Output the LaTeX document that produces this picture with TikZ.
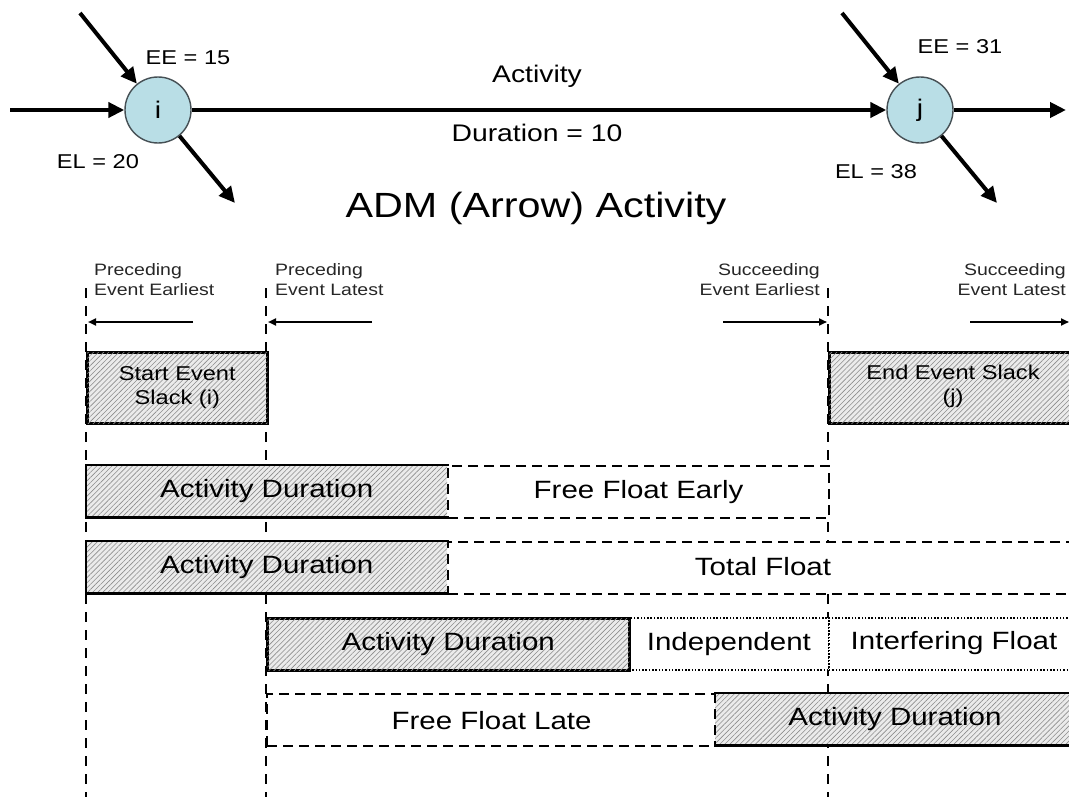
\documentclass[tikz,border=0pt]{standalone}
\usepackage{fontspec}
\setmainfont{Liberation Sans}[FakeStretch=1.18]
\usetikzlibrary{arrows.meta,patterns.meta}
\definecolor{evfill}{RGB}{185,222,230}
\definecolor{evline}{RGB}{70,80,85}
\tikzset{
  evnode/.style={circle,fill=evfill,draw=evline,line width=1.4pt,minimum size=66pt,inner sep=0pt,font=\fontsize{24}{28}\selectfont},
  bigarrow/.style={line width=4pt,-{Triangle[length=16pt,width=15pt]}},
  toplabel/.style={font=\fontsize{24}{28}\selectfont,inner sep=0pt},
  eelabel/.style={font=\fontsize{20}{24}\selectfont,inner sep=0pt},
  smalllabel/.style={font=\fontsize{16.5}{20}\selectfont,inner sep=0pt,text=black!85},
  thinarrow/.style={line width=2pt,-{Triangle[length=8pt,width=7pt]}},
  vdash/.style={line width=2.2pt,dash pattern=on 10pt off 8pt},
  hatch/.style={fill=black!8,postaction={pattern={Lines[angle=45,distance=3.6pt,line width=0.6pt]},pattern color=black!45}},
  boxtext/.style={font=\fontsize{25}{29}\selectfont},
  slacktext/.style={font=\fontsize{20}{24}\selectfont,align=center},
  solidedge/.style={line width=2.6pt,line cap=rect},
  dashbox/.style={draw,fill=white,line width=2.2pt,dash pattern=on 10pt off 6pt},
  dotbox/.style={draw,fill=white,line width=1.8pt,dash pattern=on 1.5pt off 1.8pt},
  rowbox/.style={anchor=north west,inner sep=0pt,minimum height=52pt},
}
\begin{document}
\begin{tikzpicture}[x=1pt,y=-1pt]
\useasboundingbox (0,0) rectangle (1069,797);
\fill[white] (0,0) rectangle (1069,797);

% ---------- top: ADM activity ----------
\node[evnode] (i) at (158,110) {i};
\node[evnode] (j) at (920,110) {j};
\coordinate (iin) at (10,110);
\coordinate (iinD) at (80,13);
\coordinate (ioutD) at (235,203);
\coordinate (jinD) at (842,13);
\coordinate (jout) at (1066,110);
\coordinate (joutD) at (997,203);
\draw[bigarrow] (iin) -- (i);
\draw[bigarrow] (iinD) -- (i);
\draw[bigarrow] (i) -- (ioutD);
\draw[bigarrow] (i) -- (j);
\draw[bigarrow] (jinD) -- (j);
\draw[bigarrow] (j) -- (jout);
\draw[bigarrow] (j) -- (joutD);

\node[eelabel] (ee15) at (188,58) {EE = 15};
\node[eelabel] (el20) at (98,162) {EL = 20};
\node[eelabel] (ee31) at (960,47) {EE = 31};
\node[eelabel] (el38) at (876,172) {EL = 38};
\node[toplabel] (act) at (537,76) {Activity};
\node[toplabel] (dur) at (537,133) {Duration = 10};
\node[font=\fontsize{35}{40}\selectfont,inner sep=0pt] (adm) at (536,208) {ADM (Arrow) Activity};

% ---------- bottom: time lines ----------
\coordinate (v1t) at (86,288);  \coordinate (v1b) at (86,797);
\coordinate (v2t) at (266,288); \coordinate (v2b) at (266,797);
\coordinate (v3t) at (828,288); \coordinate (v3b) at (828,797);
\draw[vdash] (v1t) -- (v1b);
\draw[vdash] (v2t) -- (v2b);
\draw[vdash] (v3t) -- (v3b);

\node[smalllabel,anchor=west,align=left] (pe) at (94,280) {Preceding\\Event Earliest};
\node[smalllabel,anchor=west,align=left] (pl) at (275,280) {Preceding\\Event Latest};
\node[smalllabel,anchor=east,align=right] (se) at (820,280) {Succeeding\\Event Earliest};
\node[smalllabel,anchor=east,align=right] (sl) at (1066,280) {Succeeding\\Event Latest};

\coordinate (peA) at (193,322); \coordinate (peB) at (88,322);
\coordinate (plA) at (372,322); \coordinate (plB) at (268,322);
\coordinate (seA) at (723,322); \coordinate (seB) at (827,322);
\coordinate (slA) at (970,322); \coordinate (slB) at (1069,322);
\draw[thinarrow] (peA) -- (peB);
\draw[thinarrow] (plA) -- (plB);
\draw[thinarrow] (seA) -- (seB);
\draw[thinarrow] (slA) -- (slB);

% slack boxes
\node[hatch,draw,solidedge,anchor=north west,inner sep=0pt,minimum width=180pt,minimum height=71pt] (ss) at (86,351) {};
\node[slacktext] at (ss.center) {Start Event\\Slack (i)};
\node[hatch,draw,solidedge,anchor=north west,inner sep=0pt,minimum width=250pt,minimum height=71pt] (es) at (828,351) {};
\node[slacktext] at (953,386) {End Event Slack\\(j)};

% row 1
\node[dashbox,rowbox,minimum width=381pt] (ffe) at (447,465) {};
\node[boxtext] at (ffe.center) {Free Float Early};
\node[hatch,rowbox,minimum width=361pt] (ad1) at (86,465) {};
\draw[solidedge] (ad1.north east) -- (ad1.north west) -- (ad1.south west) -- (ad1.south east);
\node[boxtext] at (ad1.center) {Activity Duration};

% row 2
\node[dashbox,rowbox,minimum width=640pt] (tf) at (447,541) {};
\node[boxtext] at (763,567) {Total Float};
\node[hatch,rowbox,minimum width=361pt] (ad2) at (86,541) {};
\draw[solidedge] (ad2.north east) -- (ad2.north west) -- (ad2.south west) -- (ad2.south east);
\node[boxtext] at (ad2.center) {Activity Duration};

% row 3
\node[dotbox,rowbox,minimum width=200pt] (ind) at (628,617) {};
\node[boxtext] at (ind.center) {Independent};
\node[dotbox,rowbox,minimum width=260pt] (intf) at (828,617) {};
\node[boxtext] at (954,643) {Interfering Float};
\node[hatch,draw,solidedge,rowbox,minimum width=362pt] (ad3) at (266,617) {};
\node[boxtext] at (ad3.center) {Activity Duration};

% row 4
\node[dashbox,rowbox,minimum width=449pt] (ffl) at (266,693) {};
\node[boxtext] at (ffl.center) {Free Float Late};
\node[hatch,rowbox,minimum width=370pt] (ad4) at (715,693) {};
\draw[solidedge] (ad4.north east) -- (ad4.north west);
\draw[solidedge] (ad4.south west) -- (ad4.south east);
\draw[line width=2.2pt,dash pattern=on 10pt off 6pt] (ad4.north west) -- (ad4.south west);
\node[boxtext] at (895,719) {Activity Duration};
\end{tikzpicture}
\end{document}
